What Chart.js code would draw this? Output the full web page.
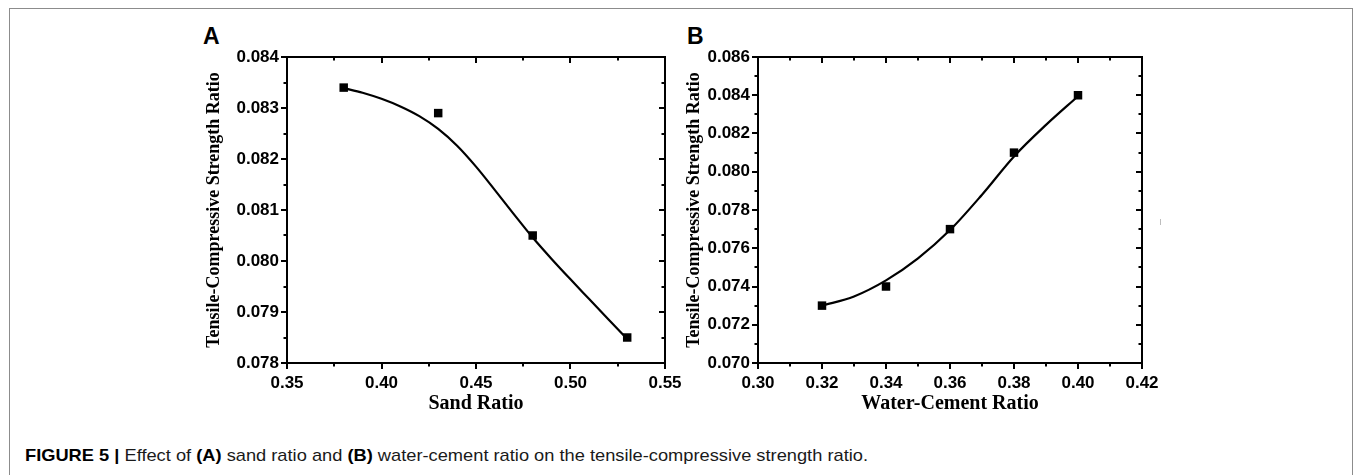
<!DOCTYPE html>
<html>
<head>
<meta charset="utf-8">
<script src="https://cdn.jsdelivr.net/npm/chart.js@4.4.1/dist/chart.umd.min.js"></script>
<style>
  html, body { margin: 0; padding: 0; background: #fff; }
  body { width: 1355px; height: 475px; position: relative; overflow: hidden; }
  .frame { position: absolute; left: 9px; top: 8px; width: 1344px; height: 520px;
           border: 1px solid #8c8c8c; box-sizing: border-box; }
  .panel { position: absolute; }
  .letter { position: absolute; font-family: "Liberation Sans", Arial, sans-serif; font-weight: bold;
            font-size: 23px; line-height: 23px; color: #000; }
  #caption { position: absolute; left: 25px; top: 447px; font-family: "Liberation Sans", Arial, sans-serif;
             font-size: 17px; line-height: 17px; color: #1a1a1a; white-space: nowrap; transform-origin: 0 0; }
  #caption b { color: #000; }
  .speck { position: absolute; left: 1160px; top: 219px; width: 1px; height: 6px; background: #bdbdbd; }
</style>
</head>
<body>
<div class="frame"></div>
<div class="letter" style="left:203px; top:25px;">A</div>
<div class="letter" style="left:687px; top:25px;">B</div>
<div class="panel" style="left:180px; top:30px; width:520px; height:400px;"><canvas id="chartA" width="520" height="400"></canvas></div>
<div class="panel" style="left:660px; top:30px; width:520px; height:400px;"><canvas id="chartB" width="520" height="400"></canvas></div>
<div class="speck"></div>
<div id="caption"><b>FIGURE 5 |</b> Effect of <b>(A)</b> sand ratio and <b>(B)</b> water-cement ratio on the tensile-compressive strength ratio.</div>

<script>
// ---------- Data ----------
// Panel A: sand ratio
const sandRatio = [0.38, 0.43, 0.48, 0.53];
const tcRatioA = [0.0834, 0.0829, 0.0805, 0.0785];
// fitted curve A
const fitSandX = [0.38, 0.39, 0.40, 0.41, 0.42, 0.43, 0.44, 0.45, 0.46, 0.47, 0.48, 0.49, 0.50, 0.51, 0.52, 0.53];
const fitSandY = [0.08339, 0.08330, 0.08318, 0.08303, 0.08284, 0.08259, 0.08226, 0.08185, 0.08139, 0.08092,
                  0.08046, 0.08004, 0.07964, 0.07925, 0.07886, 0.07847];
const xTicksA = [0.35, 0.40, 0.45, 0.50, 0.55];
const xTickLabelsA = ['0.35', '0.40', '0.45', '0.50', '0.55'];
const yTicksA = [0.078, 0.079, 0.080, 0.081, 0.082, 0.083, 0.084];
const yTickLabelsA = ['0.078', '0.079', '0.080', '0.081', '0.082', '0.083', '0.084'];

// Panel B: water-cement ratio
const wcRatio = [0.32, 0.34, 0.36, 0.38, 0.40];
const tcRatioB = [0.0730, 0.0740, 0.0770, 0.0810, 0.0840];
const fitWcX = [0.32, 0.33, 0.34, 0.35, 0.36, 0.37, 0.38, 0.39, 0.40];
const fitWcY = [0.07300, 0.07348, 0.07432, 0.07547, 0.07695, 0.07880, 0.08080, 0.08245, 0.08395];
const xTicksB = [0.30, 0.32, 0.34, 0.36, 0.38, 0.40, 0.42];
const xTickLabelsB = ['0.30', '0.32', '0.34', '0.36', '0.38', '0.40', '0.42'];
const yTicksB = [0.070, 0.072, 0.074, 0.076, 0.078, 0.080, 0.082, 0.084, 0.086];
const yTickLabelsB = ['0.070', '0.072', '0.074', '0.076', '0.078', '0.080', '0.082', '0.084', '0.086'];

const xTitleA = 'Sand Ratio';
const xTitleB = 'Water-Cement Ratio';
const yTitle = 'Tensile-Compressive Strength Ratio';

// ---------- Plugin: Origin-style frame with major/minor ticks ----------
const frameTicks = {
  id: 'frameTicks',
  afterDraw(chart) {
    const {ctx, chartArea: a, scales: {x, y}} = chart;
    const majLen = 6, minLen = 3.5;
    ctx.save();
    ctx.strokeStyle = '#000';
    ctx.lineWidth = 2;
    ctx.lineCap = 'butt';
    ctx.strokeRect(a.left, a.top, a.right - a.left, a.bottom - a.top);
    const xv = x.ticks.map(t => t.value);
    const yv = y.ticks.map(t => t.value);
    const mids = v => v.slice(1).map((w, i) => (w + v[i]) / 2);
    ctx.beginPath();
    const xt = (vals, len) => vals.forEach(v => {
      const p = Math.round(x.getPixelForValue(v));
      ctx.moveTo(p, a.bottom); ctx.lineTo(p, a.bottom + len);
      ctx.moveTo(p, a.top); ctx.lineTo(p, a.top + len);
    });
    const yt = (vals, len) => vals.forEach(v => {
      const p = Math.round(y.getPixelForValue(v));
      ctx.moveTo(a.left - len, p); ctx.lineTo(a.left, p);
      ctx.moveTo(a.right - len, p); ctx.lineTo(a.right, p);
    });
    xt(xv, majLen); xt(mids(xv), minLen);
    yt(yv, majLen); yt(mids(yv), minLen);
    ctx.stroke();
    ctx.restore();
  }
};

const tickFont = {family: '"Liberation Sans", Arial, sans-serif', weight: 'bold', size: 17};

function makeChart(id, cfg) {
  return new Chart(document.getElementById(id), {
    type: 'scatter',
    data: {
      datasets: [
        {
          data: cfg.fitX.map((v, i) => ({x: v, y: cfg.fitY[i]})),
          showLine: true, borderColor: '#000', borderWidth: 2.2, pointRadius: 0,
          cubicInterpolationMode: 'monotone', fill: false
        },
        {
          data: cfg.px.map((v, i) => ({x: v, y: cfg.py[i]})),
          showLine: false, pointStyle: 'rect', pointRadius: 6,
          backgroundColor: '#000', borderColor: '#000', borderWidth: 0
        }
      ]
    },
    options: {
      responsive: false, animation: false, devicePixelRatio: 1,
      layout: {padding: {left: 0, top: 27, right: cfg.padRight, bottom: 0}},
      plugins: {legend: {display: false}, tooltip: {enabled: false}},
      scales: {
        x: {
          type: 'linear', min: cfg.xTicks[0], max: cfg.xTicks[cfg.xTicks.length - 1],
          afterBuildTicks: s => { s.ticks = cfg.xTicks.map(v => ({value: v})); },
          afterFit: s => { s.height = 67; },
          grid: {display: false, drawTicks: false},
          border: {display: false},
          ticks: {font: tickFont, color: '#000', padding: 10, maxRotation: 0, autoSkip: false,
                  callback: (v, i) => cfg.xLabels[i]},
          title: {display: true, text: cfg.xTitle, color: '#000',
                  font: {family: '"Liberation Serif", "Times New Roman", serif', weight: 'bold', size: 20},
                  padding: {top: 0, bottom: 14}}
        },
        y: {
          type: 'linear', min: cfg.yTicks[0], max: cfg.yTicks[cfg.yTicks.length - 1],
          afterBuildTicks: s => { s.ticks = cfg.yTicks.map(v => ({value: v})); },
          afterFit: s => { s.width = cfg.yWidth; },
          grid: {display: false, drawTicks: false},
          border: {display: false},
          ticks: {font: tickFont, color: '#000', padding: 8, autoSkip: false,
                  callback: (v, i) => cfg.yLabels[i]},
          title: {display: true, text: yTitle, color: '#000',
                  font: {family: '"Liberation Serif", "Times New Roman", serif', weight: 'bold', size: 18},
                  padding: {top: 24, bottom: 0}}
        }
      }
    },
    plugins: [frameTicks]
  });
}

makeChart('chartA', {
  fitX: fitSandX, fitY: fitSandY, px: sandRatio, py: tcRatioA,
  xTicks: xTicksA, xLabels: xTickLabelsA, yTicks: yTicksA, yLabels: yTickLabelsA,
  xTitle: xTitleA, yWidth: 107, padRight: 35
});
makeChart('chartB', {
  fitX: fitWcX, fitY: fitWcY, px: wcRatio, py: tcRatioB,
  xTicks: xTicksB, xLabels: xTickLabelsB, yTicks: yTicksB, yLabels: yTickLabelsB,
  xTitle: xTitleB, yWidth: 98, padRight: 38
});

// fit caption width to the reference (condensed face)
const cap = document.getElementById('caption');
const w = cap.getBoundingClientRect().width;
cap.style.transform = 'scaleX(' + (843 / w) + ')';
</script>
</body>
</html>
